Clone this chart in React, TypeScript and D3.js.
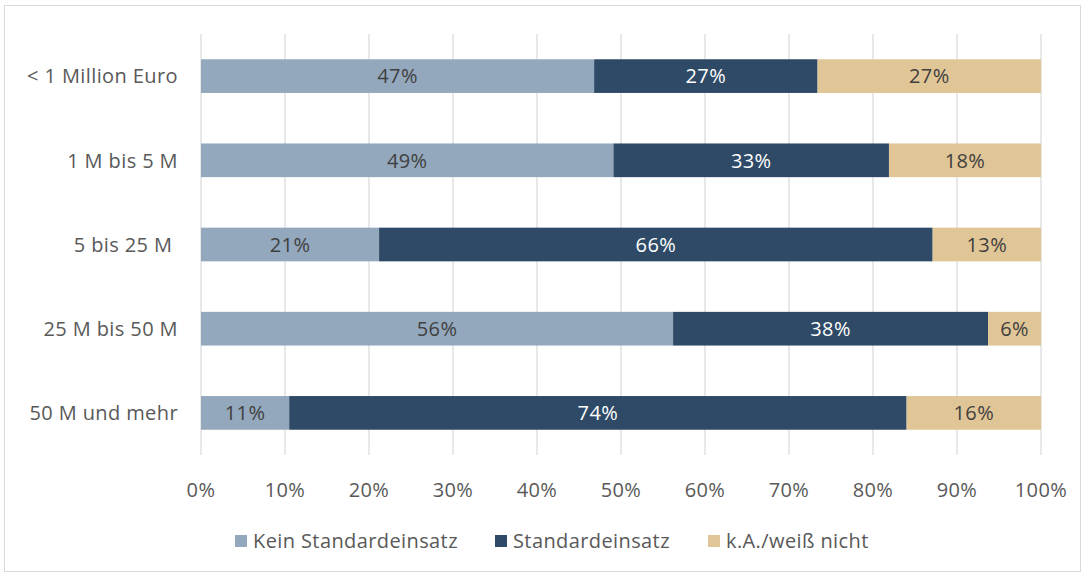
import React from "react";
import * as d3 from "d3";

const categories = ["< 1 Million Euro", "1 M bis 5 M", "5 bis 25 M ", "25 M bis 50 M", "50 M und mehr"];
const seriesNames = ["Kein Standardeinsatz", "Standardeinsatz", "k.A./weiß nicht"];
const keinStandard = [46.8, 49.1, 21.2, 56.2, 10.5];
const standard = [26.6, 32.8, 65.9, 37.5, 73.5];
const weissNicht = [26.6, 18.1, 12.9, 6.3, 16.0];
const xTicks = [0, 10, 20, 30, 40, 50, 60, 70, 80, 90, 100];

const colors = ["#93A8BC", "#2E4A66", "#E0C596"];
const labelColors = ["#404040", "#FFFFFF", "#404040"];
const font = "'Open Sans', sans-serif";

const W = 1083;
const H = 575;
const margin = { left: 201, right: 42, top: 34, bottom: 120 };
const fs = 20;
const ls = 0.4;

export default function App() {
  const x = d3.scaleLinear().domain([0, 100]).range([margin.left, W - margin.right]);
  const y = d3
    .scaleBand<string>()
    .domain(categories)
    .range([margin.top, H - margin.bottom])
    .paddingInner(0.6)
    .paddingOuter(0.3);

  const rows = categories.map((c, i) => ({
    cat: c,
    kein: keinStandard[i],
    std: standard[i],
    wn: weissNicht[i],
  }));
  const stack = d3.stack<any>().keys(["kein", "std", "wn"])(rows);

  const legendX = [235, 495, 708];

  return (
    <svg width={W} height={H} style={{ position: "absolute", left: 0, top: 0 }} fontFamily={font} letterSpacing={ls}>
      <rect x={4.5} y={5.5} width={1076} height={566} fill="#fff" stroke="#D9D9D9" />
      {xTicks.map((t) => (
        <line key={t} x1={x(t)} x2={x(t)} y1={margin.top} y2={H - margin.bottom} stroke="#D9D9D9" strokeWidth={1.2} />
      ))}
      {stack.map((s, si) =>
        s.map((d, i) => {
          const x0 = x(d[0]);
          const x1 = x(d[1]);
          const yy = y(categories[i])!;
          const v = d[1] - d[0];
          return (
            <g key={si + "-" + i}>
              <rect x={x0} y={yy} width={x1 - x0} height={y.bandwidth()} fill={colors[si]} />
              <text
                x={(x0 + x1) / 2}
                y={yy + y.bandwidth() / 2}
                dy="0.36em"
                textAnchor="middle"
                fontSize={fs}
                fill={labelColors[si]}
              >
                {Math.round(v) + "%"}
              </text>
            </g>
          );
        })
      )}
      {categories.map((c) => (
        <text
          key={c}
          x={178}
          y={y(c)! + y.bandwidth() / 2}
          dy="0.36em"
          textAnchor="end"
          fontSize={fs}
          fill="#595959"
          style={{ whiteSpace: "pre" }}
        >
          {c}
        </text>
      ))}
      {xTicks.map((t) => (
        <text key={t} x={x(t)} y={490} dy="0.36em" textAnchor="middle" fontSize={fs} fill="#595959">
          {t + "%"}
        </text>
      ))}
      {seriesNames.map((n, i) => (
        <g key={n}>
          <rect x={legendX[i]} y={535} width={12} height={12} fill={colors[i]} />
          <text x={legendX[i] + 18} y={541} dy="0.36em" fontSize={fs} fill="#595959">
            {n}
          </text>
        </g>
      ))}
    </svg>
  );
}
